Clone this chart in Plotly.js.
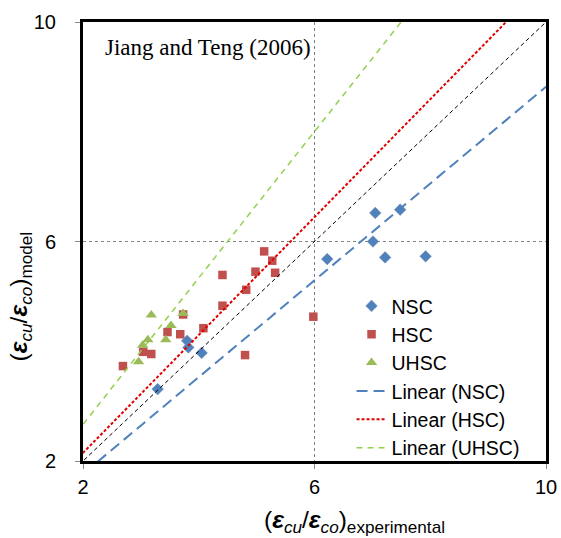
<!DOCTYPE html>
<html>
<head>
<meta charset="utf-8">
<script src="https://cdn.plot.ly/plotly-3.0.1.min.js"></script>
<style>html,body{margin:0;padding:0;background:#fff;}#chart{width:561px;height:538px;}</style>
</head>
<body>
<div id="chart"></div>
<script>
// Data
const nscX = [3.29, 3.80, 3.82, 4.05, 6.22, 7.01, 7.05, 7.22, 7.48, 7.92];
const nscY = [3.31, 4.19, 4.07, 3.97, 5.68, 6.00, 6.52, 5.71, 6.58, 5.73];

const hscX = [4.82, 4.41, 3.73, 4.08, 3.46, 3.68, 3.04, 3.18, 2.69, 4.80, 5.98, 5.13, 5.27, 4.41, 4.98, 5.32];
const hscY = [5.12, 4.83, 4.67, 4.42, 4.35, 4.31, 3.99, 3.95, 3.73, 3.93, 4.63, 5.82, 5.65, 5.39, 5.45, 5.43];

const uhscX = [3.18, 3.73, 3.52, 3.12, 3.43, 3.03, 2.96];
const uhscY = [4.66, 4.69, 4.47, 4.21, 4.21, 4.11, 3.81];

// Trendline slopes (linear through origin)
const trendNames = ['Linear (NSC)', 'Linear (HSC)', 'Linear (UHSC)'];
const trendSlopes = [0.882, 1.074, 1.334];
const trendSpan = [0, 10];

// 1:1 reference line
const equalityLine = [0, 10];

const tickVals = [2, 6, 10];
const tickText = ['2', '6', '10'];

const blue = '#4F81BD', red = '#C0504D', green = '#9BBB59';
const lineColors = ['#4F81BD', '#E00000', '#92D050'];
const lineDash = ['11px,6px', '3px,2px', '6px,5px'];
const lineWidths = [2, 2, 1.5];

const traces = [
  {x: nscX, y: nscY, mode: 'markers', type: 'scatter', name: 'NSC',
   marker: {symbol: 'diamond', size: 9, color: blue, line: {color: '#7f95b5', width: 0.5}}},
  {x: hscX, y: hscY, mode: 'markers', type: 'scatter', name: 'HSC',
   marker: {symbol: 'square', size: 8.5, color: red}},
  {x: uhscX, y: uhscY, mode: 'markers', type: 'scatter', name: 'UHSC',
   marker: {symbol: 'triangle-up', size: 10, color: green}}
];
trendNames.forEach((n, i) => {
  traces.push({x: trendSpan, y: trendSpan.map(v => v * trendSlopes[i]), mode: 'lines', type: 'scatter', name: n,
    line: {color: lineColors[i], dash: lineDash[i], width: lineWidths[i]}});
});
traces.push({x: equalityLine, y: equalityLine, mode: 'lines', type: 'scatter', showlegend: false,
  line: {color: '#000', dash: '4px,3px', width: 1}, hoverinfo: 'skip'});

const axisBase = {
  range: [2, 10], tickvals: tickVals, ticktext: tickText,
  showline: true, mirror: true, linecolor: '#000', linewidth: 3,
  ticks: 'outside', ticklen: 5, tickcolor: '#888', tickwidth: 1,
  showgrid: true, griddash: 'dot', gridcolor: '#808080', gridwidth: 1.5,
  zeroline: false, fixedrange: true,
  tickfont: {family: 'Liberation Sans, Arial', size: 20, color: '#000'}
};

const layout = {
  width: 561, height: 538,
  margin: {l: 83, r: 15, t: 22, b: 77},
  paper_bgcolor: '#fff', plot_bgcolor: '#fff',
  showlegend: true,
  legend: {x: 0.58, y: 0.397, xanchor: 'left', yanchor: 'top', bgcolor: 'rgba(0,0,0,0)',
    font: {family: 'Liberation Sans, Arial', size: 19.5, color: '#000'}, tracegroupgap: 0},
  xaxis: Object.assign({}, axisBase, {ticklabelstandoff: 1}),
  yaxis: Object.assign({}, axisBase, {ticklabelstandoff: 15}),
  annotations: [
    {text: 'Jiang and Teng (2006)', xref: 'paper', yref: 'paper', x: 0.043, y: 0.943,
     xanchor: 'left', yanchor: 'middle', showarrow: false,
     font: {family: 'Liberation Serif, Times New Roman', size: 23, color: '#000'}},
    {text: '(<b><i>ε</i></b><sub><i>cu</i></sub>/<b><i>ε</i></b><sub><i>co</i></sub>)<sub>experimental</sub>',
     xref: 'paper', yref: 'paper', x: 0.587, y: -0.137, xanchor: 'center', yanchor: 'middle', showarrow: false,
     font: {family: 'Liberation Sans, Arial', size: 24.5, color: '#000'}},
    {text: '(<b><i>ε</i></b><sub><i>cu</i></sub>/<b><i>ε</i></b><sub><i>co</i></sub>)<sub>model</sub>',
     xref: 'paper', yref: 'paper', x: -0.135, y: 0.376, xanchor: 'center', yanchor: 'middle', showarrow: false,
     textangle: -90,
     font: {family: 'Liberation Sans, Arial', size: 24.5, color: '#000'}}
  ]
};

Plotly.newPlot('chart', traces, layout, {staticPlot: true, displayModeBar: false});
</script>
</body>
</html>
